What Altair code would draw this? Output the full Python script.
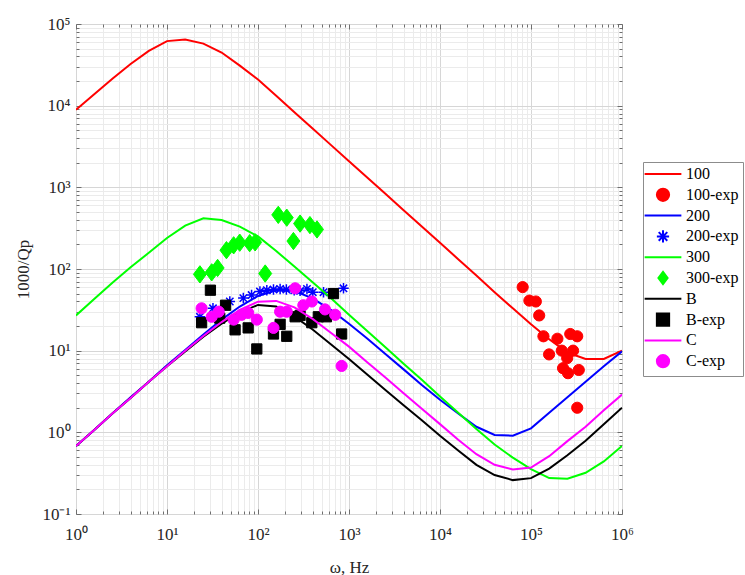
import altair as alt
import pandas as pd

# ---------------- data ----------------
freq = [1, 1.585, 2.512, 3.981, 6.31, 10, 15.85, 25.12, 39.81, 63.1,
        100, 158.5, 251.2, 398.1, 631, 1000, 1585, 2512, 3981, 6310,
        10000, 15850, 25120, 39810, 63100, 100000, 158500, 251200, 398100, 631000, 1000000]

line_100 = [8900, 13800, 21400, 32400, 46800, 61700, 64600, 57500, 44700, 30900,
            20900, 13200, 8300, 5250, 3310, 2090, 1320, 832, 525, 331,
            209, 132, 83, 52, 33, 21, 13.8, 9.5, 7.9, 7.9, 10]
line_200 = [0.68, 1.07, 1.70, 2.69, 4.17, 6.61, 10.2, 15.8, 24.0, 34.7,
            46.8, 55.0, 53.7, 43.7, 31.6, 21.4, 14.1, 9.1, 5.9, 3.8,
            2.5, 1.70, 1.17, 0.93, 0.91, 1.12, 1.74, 2.69, 4.17, 6.46, 9.8]
line_300 = [27, 43, 68, 105, 158, 240, 340, 417, 398, 331,
            251, 166, 107, 69, 44, 27.5, 17.4, 11, 6.9, 4.4,
            2.75, 1.74, 1.1, 0.71, 0.49, 0.355, 0.275, 0.27, 0.32, 0.44, 0.68]
line_B = [0.68, 1.07, 1.70, 2.63, 4.17, 6.46, 9.8, 14.8, 21.4, 29.5,
          36.3, 34.7, 26.3, 18.2, 12.0, 7.9, 5.1, 3.3, 2.14, 1.41,
          0.91, 0.60, 0.40, 0.30, 0.26, 0.275, 0.36, 0.525, 0.79, 1.26, 2.0]
line_C = [0.68, 1.07, 1.70, 2.63, 4.17, 6.46, 10.0, 15.1, 22.4, 31.6,
          39.8, 40.7, 33.9, 24.5, 16.6, 11.2, 7.2, 4.7, 3.0, 1.95,
          1.26, 0.81, 0.54, 0.40, 0.35, 0.37, 0.51, 0.78, 1.17, 1.86, 2.9]

exp100_x = [81000, 96000, 113000, 123000, 137000, 158000, 195000, 218000, 225000,
            250000, 255000, 270000, 290000, 322000, 335000, 322000]
exp100_y = [60, 41, 40, 27, 15, 9, 14, 10, 6.1, 8.1, 5.3, 16, 10, 15, 5.8, 2.0]

exp200_x = [23, 32, 49, 69, 85, 105, 125, 148, 175, 205, 250, 290, 345, 400, 525, 675, 870]
exp200_y = [26, 33, 40, 44, 48, 53, 55, 56, 57, 56, 55, 54, 57, 52, 52, 50, 58]

exp300_x = [23, 31, 36, 45, 54, 63, 81, 93, 120, 167, 207, 245, 290, 372, 445]
exp300_y = [86, 91, 103, 170, 195, 210, 207, 212, 88, 460, 425, 220, 360, 345, 305]

expB_x = [24, 30, 38, 44, 56, 78, 97, 148, 175, 207, 256, 290, 390, 460, 565, 675, 830]
expB_y = [22, 55, 25, 36, 18, 19, 10.5, 16, 21, 15, 26, 27, 22, 26, 26, 50, 16]

expC_x = [24, 31, 37, 54, 66, 78, 97, 148, 175, 207, 256, 315, 390, 545, 705, 830]
expC_y = [33, 26, 30, 24, 27.5, 29, 24, 19, 30, 30, 58, 36, 40, 32, 27.5, 6.5]

series_names = ["100", "100-exp", "200", "200-exp", "300", "300-exp", "B", "B-exp", "C", "C-exp"]
series_colors = ["#ff0000", "#ff0000", "#0000ff", "#0000ff", "#00ff00", "#00ff00",
                 "#000000", "#000000", "#ff00ff", "#ff00ff"]

x_major = [1, 10, 100, 1000, 10000, 100000, 1000000]
y_major = [0.1, 1, 10, 100, 1000, 10000, 100000]

# ---------------- shapes ----------------
LINE_SYM = "M-3,0L3,0"
ASTER = "M0,-1L0,1M-1,0L1,0M-0.7,-0.7L0.7,0.7M-0.7,0.7L0.7,-0.7"
DIAM = "M0,-1L0.75,0L0,1L-0.75,0Z"
series_shapes = [LINE_SYM, "circle", LINE_SYM, ASTER, LINE_SYM, DIAM, LINE_SYM, "square", LINE_SYM, "circle"]
marker_size = {"100-exp": 125, "200-exp": 110, "300-exp": 300, "B-exp": 105, "C-exp": 125}
marker_sw = {"100-exp": 1, "200-exp": 1.5, "300-exp": 1, "B-exp": 1, "C-exp": 1}

lines = {"100": line_100, "200": line_200, "300": line_300, "B": line_B, "C": line_C}
points = {"100-exp": (exp100_x, exp100_y), "200-exp": (exp200_x, exp200_y),
          "300-exp": (exp300_x, exp300_y), "B-exp": (expB_x, expB_y), "C-exp": (expC_x, expC_y)}

xs = alt.Scale(type="log", domain=[1, 1e6], nice=False)
ys = alt.Scale(type="log", domain=[0.1, 1e5], nice=False)
stroke_scale = alt.Scale(domain=series_names, range=series_colors)
fill_scale = alt.Scale(domain=series_names, range=series_colors)
shape_scale = alt.Scale(domain=series_names, range=series_shapes)

W, H = 546, 490

leg = alt.Legend(title=None, orient="none", legendX=567, legendY=138,
                 padding=4, strokeColor="#8c8c8c", fillColor="white",
                 labelFont="Liberation Serif", labelFontSize=16, labelColor="#000000",
                 symbolSize=150, symbolStrokeWidth=2, symbolOffset=8, labelOffset=15,
                 rowPadding=1.8, labelLimit=300)

layers = []
for name in series_names:
    if name in lines:
        df = pd.DataFrame({"x": freq, "y": lines[name], "series": name})
        layers.append(
            alt.Chart(df).mark_line(strokeWidth=2, clip=True).encode(
                x=alt.X("x:Q", scale=xs, axis=None),
                y=alt.Y("y:Q", scale=ys, axis=None),
                stroke=alt.Stroke("series:N", scale=stroke_scale, legend=leg),
            )
        )
    else:
        px, py = points[name]
        df = pd.DataFrame({"x": px, "y": py, "series": name})
        layers.append(
            alt.Chart(df).mark_point(filled=True, opacity=1, size=marker_size[name],
                                     strokeWidth=marker_sw[name]).encode(
                x=alt.X("x:Q", scale=xs, axis=None),
                y=alt.Y("y:Q", scale=ys, axis=None),
                stroke=alt.Stroke("series:N", scale=stroke_scale, legend=leg),
                fill=alt.Fill("series:N", scale=fill_scale, legend=leg),
                shape=alt.Shape("series:N", scale=shape_scale, legend=leg),
            )
        )

# ---------------- axes (grid, labels, inward ticks) ----------------
x_ticks = x_major + [m * d for d in x_major[:-1] for m in range(2, 10)]
y_ticks = y_major + [round(m * d, 6) for d in y_major[:-1] for m in range(2, 10)]

MAJ = "abs(log(datum.value)/LN10 - round(log(datum.value)/LN10)) < 0.001"
SUP = "['\u207b\u00b9','\u2070','\u00b9','\u00b2','\u00b3','\u2074','\u2075','\u2076'][round(log(datum.value)/LN10)+1]"
label_expr = f"({MAJ}) ? '10' + {SUP} : ''"
grid_color = {"condition": {"test": MAJ, "value": "#d6d6d6"}, "value": "#ebebeb"}
tick_size = {"condition": {"test": MAJ, "value": 5}, "value": 3}

axis_df = pd.DataFrame({"x": freq, "y": line_200})

base_axes = alt.Chart(axis_df).mark_point(opacity=0).encode(
    x=alt.X("x:Q", scale=xs, axis=alt.Axis(
        orient="bottom", values=x_ticks, labelExpr=label_expr, grid=True, gridColor=grid_color,
        ticks=False, domain=False, labelPadding=12, labelOverlap=False, labelFlush=False,
        title="\u03c9, Hz", titleX=273, titleY=53, titleBaseline="middle", titleAlign="center")),
    y=alt.Y("y:Q", scale=ys, axis=alt.Axis(
        orient="left", values=y_ticks, labelExpr=label_expr, grid=True, gridColor=grid_color,
        ticks=False, domain=False, labelPadding=6, labelOverlap=False, labelFlush=False,
        title="1000/Qp", titleX=-53, titleY=245, titleBaseline="middle", titleAlign="center")),
)

ticks_a = alt.Chart(axis_df).mark_point(opacity=0).encode(
    x=alt.X("x:Q", scale=xs, axis=alt.Axis(
        orient="top", offset=-H, values=x_ticks, labels=False, grid=False, domain=False,
        ticks=True, tickSize=tick_size, tickColor="#6e6e6e", title=None)),
    y=alt.Y("y:Q", scale=ys, axis=alt.Axis(
        orient="right", offset=-W, values=y_ticks, labels=False, grid=False, domain=False,
        ticks=True, tickSize=tick_size, tickColor="#6e6e6e", title=None)),
)
ticks_b = alt.Chart(axis_df).mark_point(opacity=0).encode(
    x=alt.X("x:Q", scale=xs, axis=alt.Axis(
        orient="bottom", offset=-H, values=x_ticks, labels=False, grid=False, domain=False,
        ticks=True, tickSize=tick_size, tickColor="#6e6e6e", title=None)),
    y=alt.Y("y:Q", scale=ys, axis=alt.Axis(
        orient="left", offset=-W, values=y_ticks, labels=False, grid=False, domain=False,
        ticks=True, tickSize=tick_size, tickColor="#6e6e6e", title=None)),
)

chart = alt.layer(base_axes, ticks_a, ticks_b, *layers).resolve_axis(
    x="independent", y="independent"
).properties(
    width=W, height=H,
    padding={"left": 76, "top": 24, "right": 123, "bottom": 61},
    autosize=alt.AutoSizeParams(type="none"),
    background="white",
).configure_view(
    stroke="#7a7a7a", strokeWidth=1
).configure_axis(
    labelFont="Liberation Serif", titleFont="Liberation Serif",
    labelFontSize=17, titleFontSize=17, titleFontWeight="normal",
    labelColor="#262626", titleColor="#262626",
)

chart.save("out.html", embed_options={"renderer": "svg", "actions": False})
